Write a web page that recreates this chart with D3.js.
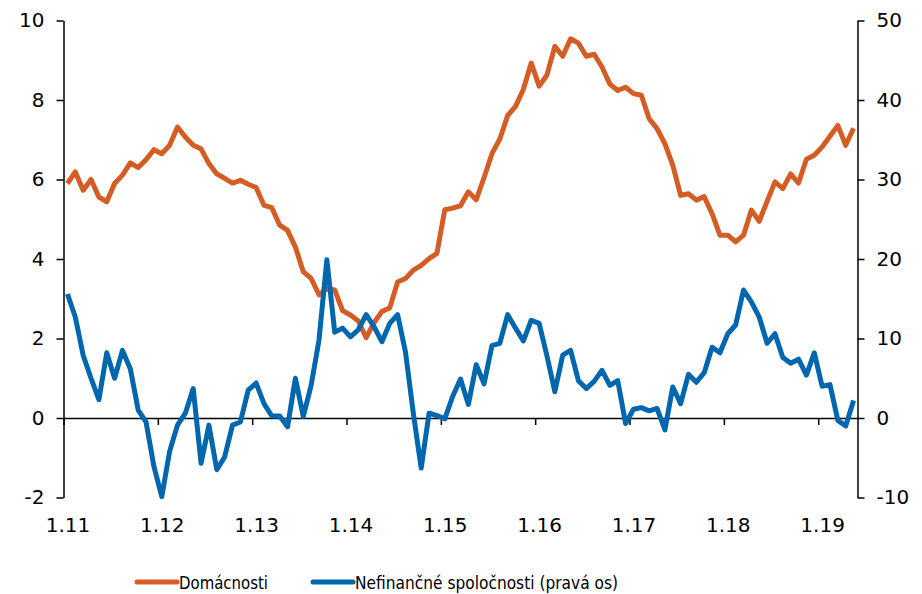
<!DOCTYPE html>
<html>
<head>
<meta charset="utf-8">
<script src="https://cdn.jsdelivr.net/npm/d3@7"></script>
<style>
  body { margin: 0; background: #fff; }
  text { font-family: "DejaVu Sans", Verdana, sans-serif; fill: #000; }
</style>
</head>
<body>
<div id="chart"></div>
<script>
// monthly data, 1.2011 - 5.2019
const domacnosti = [
  5.90, 6.19, 5.73, 6.00, 5.56, 5.44, 5.90, 6.11, 6.42, 6.30, 6.50, 6.75,
  6.65, 6.86, 7.32, 7.07, 6.86, 6.77, 6.40, 6.14, 6.03, 5.91, 5.98, 5.88,
  5.80, 5.35, 5.29, 4.85, 4.72, 4.30, 3.68, 3.51, 3.10, 3.25, 3.22, 2.70,
  2.59, 2.44, 2.02, 2.40, 2.68, 2.77, 3.42, 3.51, 3.72, 3.84, 4.01, 4.14,
  5.24, 5.28, 5.34, 5.69, 5.49, 6.05, 6.65, 7.02, 7.61, 7.84, 8.27, 8.93,
  8.35, 8.63, 9.35, 9.10, 9.54, 9.43, 9.10, 9.15, 8.83, 8.40, 8.24, 8.32,
  8.16, 8.12, 7.53, 7.28, 6.90, 6.36, 5.60, 5.64, 5.48, 5.57, 5.14, 4.60,
  4.60, 4.43, 4.60, 5.23, 4.95, 5.45, 5.94, 5.77, 6.14, 5.91, 6.51, 6.61,
  6.82, 7.09, 7.36, 6.86, 7.29
]
const nefinancne = [
  15.6, 12.7, 7.9, 5.0, 2.3, 8.2, 5.0, 8.5, 6.2, 1.0, -0.5, -6.1,
  -9.9, -4.2, -0.9, 0.6, 3.7, -5.7, -0.9, -6.5, -4.9, -0.9, -0.5, 3.5,
  4.4, 1.8, 0.25, 0.25, -1.1, 5.0, 0.2, 4.1, 9.8, 19.9, 10.8, 11.3,
  10.2, 11.1, 13.0, 11.5, 9.6, 11.9, 13.0, 8.3, 0.6, -6.3, 0.6, 0.3,
  -0.1, 2.7, 4.9, 1.7, 6.7, 4.3, 9.1, 9.4, 13.0, 11.3, 9.7, 12.3,
  11.9, 7.8, 3.3, 7.9, 8.5, 4.7, 3.7, 4.6, 6.0, 4.1, 4.7, -0.7,
  1.1, 1.3, 0.9, 1.2, -1.5, 3.9, 1.8, 5.5, 4.5, 5.7, 8.9, 8.2,
  10.6, 11.7, 16.1, 14.6, 12.7, 9.4, 10.6, 7.6, 6.9, 7.4, 5.4, 8.2,
  4.0, 4.2, -0.3, -1.0, 2.2
]
const yearLabels = ["1.11", "1.12", "1.13", "1.14", "1.15", "1.16", "1.17", "1.18", "1.19"]
const leftTicks = [-2, 0, 2, 4, 6, 8, 10]
const rightTicks = [-10, 0, 10, 20, 30, 40, 50]
const seriesNames = ["Domácnosti", "Nefinančné spoločnosti (pravá os)"]
const colors = ["#D35D25", "#0066AE"]

const sizing = { width: 922, height: 594 }
const plot = { left: 63.5, right: 857.5, top: 20.5, bot: 497.5 }

const svg = d3.select("#chart").append("svg")
    .attr("width", sizing.width)
    .attr("height", sizing.height)

svg.append("rect")
    .attr("width", "100%")
    .attr("height", "100%")
    .attr("fill", "white")

const n = domacnosti.length
// month i occupies [i, i+1]; points sit in the middle
const x = d3.scaleLinear().domain([0, n]).range([plot.left, plot.right])
const yL = d3.scaleLinear().domain([-2, 10]).range([plot.bot, plot.top])
const yR = d3.scaleLinear().domain([-10, 50]).range([plot.bot, plot.top])
const halfMonth = (x(1) - x(0)) / 2
const plain = d => String(d)   // keep the plain hyphen for negatives

// axes
const leftAxis = d3.axisLeft(yL).tickValues(leftTicks).tickFormat(plain)
    .tickSize(7).tickSizeOuter(0).tickPadding(12)
const rightAxis = d3.axisRight(yR).tickValues(rightTicks).tickFormat(plain)
    .tickSize(7).tickSizeOuter(0).tickPadding(12)
const bottomAxis = d3.axisBottom(x)
    .tickValues(yearLabels.map((d, i) => i * 12))
    .tickFormat((d, i) => yearLabels[i])
    .tickSize(7).tickSizeOuter(0)

const gL = svg.append("g").attr("transform", `translate(${plot.left},0)`).call(leftAxis)
const gR = svg.append("g").attr("transform", `translate(${plot.right},0)`).call(rightAxis)
const gB = svg.append("g").attr("transform", `translate(0,${yL(0)})`).call(bottomAxis)

for (const g of [gL, gR, gB]) {
    g.selectAll("path, line").attr("stroke", "#000").attr("stroke-width", 1.5)
    g.selectAll("text").attr("font-size", 20).attr("font-family", "DejaVu Sans, Verdana, sans-serif").attr("fill", "#000")
}
// year labels sit under the plot, centred on the January month
gB.selectAll(".tick text")
    .attr("dx", halfMonth)
    .attr("y", yL(-2) - yL(0) + 20)

// lines
const lineL = d3.line().x((d, i) => x(i + 0.5)).y(d => yL(d))
const lineR = d3.line().x((d, i) => x(i + 0.5)).y(d => yR(d))

svg.append("path")
    .datum(domacnosti)
    .attr("d", lineL)
    .attr("fill", "none")
    .attr("stroke", colors[0])
    .attr("stroke-width", 5)
    .attr("stroke-linejoin", "round")

svg.append("path")
    .datum(nefinancne)
    .attr("d", lineR)
    .attr("fill", "none")
    .attr("stroke", colors[1])
    .attr("stroke-width", 5)
    .attr("stroke-linejoin", "round")

// legend
const legendX = [137, 313]
const legendW = [89, 263]
const legend = svg.append("g").attr("transform", "translate(0,582)")
seriesNames.forEach((name, i) => {
    legend.append("line")
        .attr("x1", legendX[i]).attr("x2", legendX[i] + 40)
        .attr("y1", 0).attr("y2", 0)
        .attr("stroke", colors[i])
        .attr("stroke-width", 5)
        .attr("stroke-linecap", "round")
    legend.append("text")
        .attr("x", legendX[i] + 42)
        .attr("y", 7)
        .attr("font-size", 18.5)
        .attr("textLength", legendW[i])
        .attr("lengthAdjust", "spacingAndGlyphs")
        .text(name)
})
</script>
</body>
</html>
